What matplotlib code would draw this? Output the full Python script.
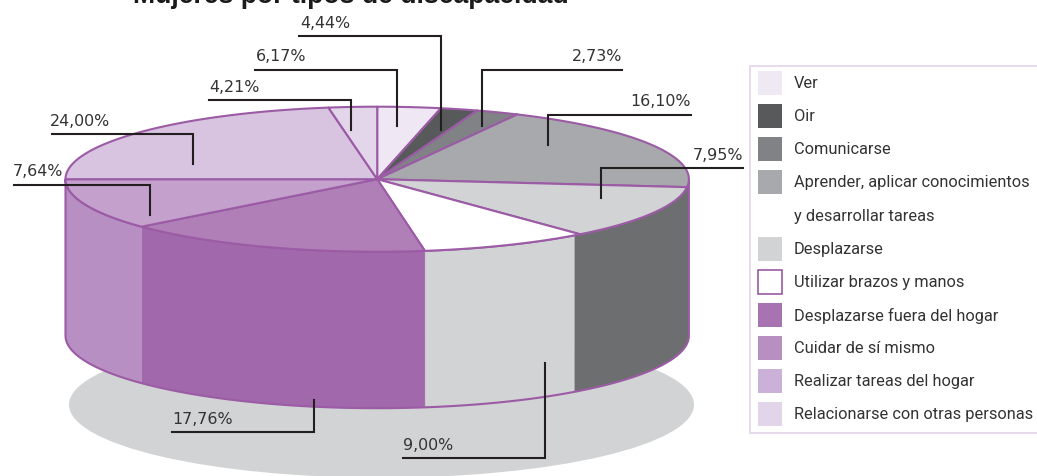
import numpy as np
import matplotlib
matplotlib.use("Agg")
import matplotlib.pyplot as plt
from matplotlib.patches import Polygon, Rectangle, Ellipse

plt.rcParams['font.family'] = ['Roboto', 'DejaVu Sans']

title = "Mujeres por tipos de discapacidad"
categories = ["Ver", "Oir", "Comunicarse", "Aprender, aplicar conocimientos\ny desarrollar tareas",
              "Desplazarse", "Utilizar brazos y manos", "Desplazarse fuera del hogar",
              "Cuidar de sí mismo", "Realizar tareas del hogar", "Relacionarse con otras personas"]
values = [6.17, 4.44, 2.73, 16.10, 7.95, 9.00, 17.76, 7.64, 24.00, 4.21]
# the source drawing's slices are not proportional to the values: extents as drawn, in degrees
drawn_extent = [11.8, 6.9, 8.0, 69.6, 43.1, 31.8, 57.9, 40.9, 81.0, 9.0]
top_colors = ["#efe8f4", "#58595b", "#808285", "#a7a9ac", "#d1d3d4", "#ffffff",
              "#b07fb7", "#c4a1cc", "#d8c3e0", "#e4d6ea"]
legend_colors = ["#efe9f4", "#58595b", "#808285", "#a7a9ac", "#d1d3d4", "#ffffff",
                 "#a873b1", "#b78fc1", "#cbb1d7", "#e2d5e9"]
# wall pieces as drawn: (start, end, colour) in degrees clockwise from top
wall_pieces = [(90.0, 140.8, "#6d6e70"), (140.8, 171.2, "#d1d3d4"),
               (171.2, 229.1, "#a168ac"), (229.1, 270.0, "#b88fc3")]

PURPLE = "#9b5ba5"
INK = "#333333"
cx, cy, rx, ry, depth = 377.2, 179.5, 311.7, 72.5, 156.5

fig = plt.figure(figsize=(10.37, 4.77), dpi=100)
ax = fig.add_axes([0, 0, 1, 1])
ax.set_xlim(0, 1037)
ax.set_ylim(476.3, -0.7)
ax.axis("off")


def rim(a0, a1, yc=cy):
    t = np.radians(np.linspace(a0, a1, 120))
    return np.column_stack([cx + rx * np.sin(t), yc - ry * np.cos(t)])


# ground shadow
ax.add_patch(Ellipse((381.5, 405), 625, 146, fc="#d1d3d4", ec="none", zorder=1))

# walls
for a0, a1, c in wall_pieces:
    pts = np.vstack([rim(a0, a1), rim(a0, a1, cy + depth)[::-1]])
    ax.add_patch(Polygon(pts, closed=True, fc=c, ec=c, lw=0.3, zorder=2))
outline = np.vstack([rim(90, 270), rim(90, 270, cy + depth)[::-1]])
ax.add_patch(Polygon(outline, closed=True, fc="none", ec=PURPLE, lw=1.5, zorder=3))

# top slices
edges = np.concatenate([[0], np.cumsum(drawn_extent)])
for i, c in enumerate(top_colors):
    pts = np.vstack([[cx, cy], rim(edges[i], edges[i + 1])])
    ax.add_patch(Polygon(pts, closed=True, fc=c, ec=PURPLE, lw=1.5, joinstyle="round", zorder=4))

# leader lines and labels: (text x, text baseline y, line y, x0, x1, y end)
leaders = [(255.5, 60, 70, 255, 397, 126), (300, 27, 36, 299, 441, 130), (622.5, 60, 70, 622, 482, 126),
           (691, 105, 115, 691, 548, 145), (743, 159, 168, 743, 601, 198), (403, 449, 458, 403, 545, 363),
           (172, 423, 432, 172, 314, 400), (13, 175, 185, 14, 150, 215), (50, 125, 134, 52, 193, 164),
           (209, 91, 100, 209, 351, 130)]
for val, (tx, ty, ly, x0, x1, ye) in zip(values, leaders):
    ax.plot([x0, x1, x1], [ly, ly, ye], color="#231f20", lw=1.5, solid_joinstyle="miter", zorder=5)
    ha = "right" if x0 > x1 else "left"
    ax.text(tx, ty, f"{val:.2f}%".replace(".", ","), ha=ha, va="baseline",
            fontsize=11.4, family=["DejaVu Sans"], color=INK, zorder=6)

# title
ax.text(133, 2.5, title, ha="left", va="baseline", fontsize=19.2, fontweight="bold",
        family=["Liberation Sans"], color="#1a1a1a")

# legend
ax.add_patch(Rectangle((749.5, 66.5), 300, 367, fc="white", ec="#e6d9ec", lw=1.4, zorder=1))
row_y = [83, 116, 149, 182, 249, 282, 315, 348, 381, 414]
for y, name, c in zip(row_y, categories, legend_colors):
    is_white = c == "#ffffff"
    ax.add_patch(Rectangle((757.5, y - 12), 24, 24, fc=c, ec=PURPLE if is_white else c,
                           lw=1.2 if is_white else 0, zorder=2))
    parts = name.split("\n")
    ax.text(794, y, parts[0], ha="left", va="center", fontsize=11.8, color=INK)
    if len(parts) > 1:
        ax.text(794, y + 33.5, parts[1], ha="left", va="center", fontsize=11.8, color=INK)

fig.savefig("out.png", dpi=100)
